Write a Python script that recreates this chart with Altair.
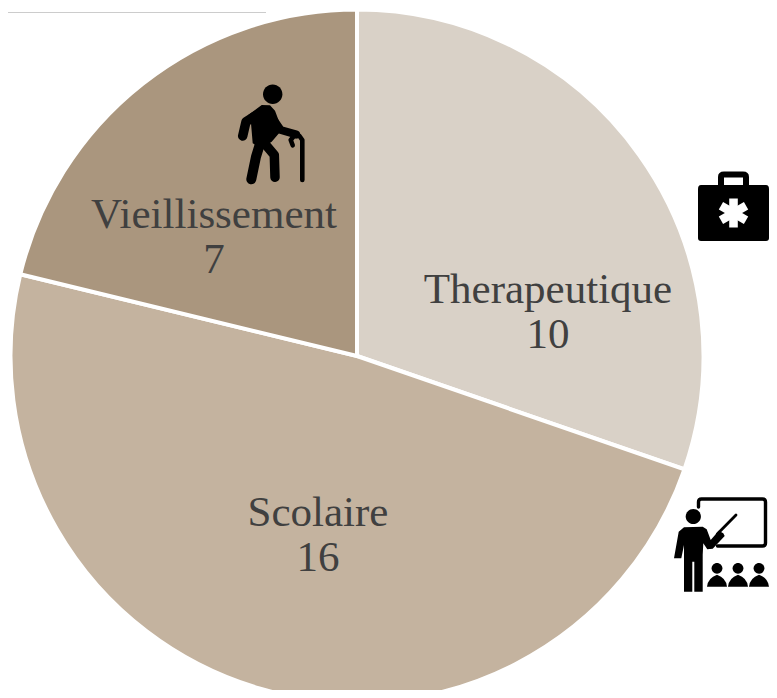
import math
import altair as alt

categories = ["Therapeutique", "Scolaire", "Vieillissement"]
values = [10, 16, 7]
colors = ["#D9D1C7", "#C4B39F", "#AA967E"]

table = [{"cat": c, "value": v, "idx": i, "label": f"{c}\n{v}"}
         for i, (c, v) in enumerate(zip(categories, values))]

OFF = 8  # page margin
CX, CY, R = 357 - OFF, 356 - OFF, 346.5
LABEL_POS = {"Therapeutique": (548, 290), "Scolaire": (318, 513), "Vieillissement": (214, 215)}

pie = alt.Chart(alt.Data(values=table)).mark_arc(
    outerRadius=R, stroke="white", strokeWidth=4
).encode(
    theta=alt.Theta("value:Q", stack=True),
    order=alt.Order("idx:Q"),
    color=alt.Color("cat:N", scale=alt.Scale(domain=categories, range=colors), legend=None),
    x=alt.value(CX), y=alt.value(CY),
)

layers = [pie]

layers.append(
    alt.Chart(alt.Data(values=[{"r": 1}])).mark_rule(color="#cccccc", strokeWidth=1).encode(
        x=alt.value(0), x2=alt.value(266 - OFF), y=alt.value(12.5 - OFF)
    )
)

for row in table:
    px, py = LABEL_POS[row["cat"]]
    layers.append(
        alt.Chart(alt.Data(values=[row])).mark_text(
            font="Liberation Serif", fontSize=43, color="#404040",
            lineBreak="\n", lineHeight=45, align="center", baseline="middle",
        ).encode(text="label:N", x=alt.value(px - OFF), y=alt.value(py - OFF))
    )


def icon(path, fill=None, stroke=None, sw=0):
    kw = dict(shape=path, size=4, opacity=1)
    if fill:
        kw.update(filled=True, fill=fill, strokeWidth=0)
    else:
        kw.update(filled=False, fill="transparent", stroke=stroke, strokeWidth=sw,
                  strokeCap="round", strokeJoin="round")
    return alt.Chart(alt.Data(values=[{"i": 1}])).mark_point(**kw).encode(
        x=alt.value(-OFF), y=alt.value(-OFF)
    )


def circle(cx, cy, r):
    return f"M{cx-r},{cy}A{r},{r} 0 1 1 {cx+r},{cy}A{r},{r} 0 1 1 {cx-r},{cy}Z"


def zoomed(pts, ox, oy):
    """Polygon from a 3x reference crop to page pixels."""
    return "M" + "L".join(f"{ox+x/3:.1f},{oy+y/3:.1f}" for x, y in pts) + "Z"


def polyline(pts, ox, oy):
    return "M" + "L".join(f"{ox+x/3:.1f},{oy+y/3:.1f}" for x, y in pts)


# Briefcase (narrowed so it stays whole inside the drawable width)
layers.append(icon("M701,185H766Q769,185 769,189V238Q769,241 766,241H701Q698,241 698,238V189Q698,185 701,185Z", fill="black"))
layers.append(icon("M721,186V177Q721,174.500 724,174.500H743Q746,174.500 746,177V186", stroke="black", sw=6))
for a in (0, 60, 120):
    c, s = math.cos(math.radians(a)), math.sin(math.radians(a))
    corners = [(-4.3, -14.5), (4.3, -14.5), (4.3, 14.5), (-4.3, 14.5)]
    pts = [(733.5 + x * c - y * s, 213 + x * s + y * c) for x, y in corners]
    layers.append(icon("M" + "L".join(f"{x:.1f},{y:.1f}" for x, y in pts) + "Z", fill="white"))

# Teacher
tx, ty = 660, 490
layers.append(icon("M698.500,507V502Q698.500,499 701.500,499H762.500Q765.500,499 765.500,502V543Q765.500,546 762.500,546H717.500", stroke="black", sw=3.4))
layers.append(icon(polyline([(172, 132), (228, 75)], tx, ty), stroke="black", sw=2.8))
layers.append(icon(circle(693.3, 516.5, 7.6), fill="black"))
layers.append(icon(zoomed([
    (72, 112), (128, 110), (140, 118), (152, 150), (176, 122), (190, 130), (194, 138), (158, 176),
    (142, 178), (130, 160), (128, 195), (128, 305), (103, 305), (103, 215), (97, 215), (97, 305),
    (72, 305), (72, 165), (64, 205), (42, 205), (56, 125)], tx, ty), fill="black"))
for hx in (717, 738, 759):
    layers.append(icon(circle(hx, ty + 235 / 3, 5.4), fill="black"))
    x0, x1, xm, y0, y1 = hx - 10, hx + 10, hx, ty + 290 / 3, ty + 254 / 3
    layers.append(icon(f"M{x0:.1f},{y0:.1f}Q{x0+1:.1f},{y1+3:.1f} {xm:.1f},{y1:.1f}Q{x1-1:.1f},{y1+3:.1f} {x1:.1f},{y0:.1f}Z", fill="black"))

# Elder
ex, ey = 220, 80
layers.append(icon(circle(272.7, 94.3, 9.7), fill="black"))
layers.append(icon(zoomed([
    (125, 75), (150, 76), (165, 92), (180, 132), (190, 145), (155, 185), (125, 205), (98, 190), (93, 130), (85, 105)
], ex, ey), fill="black"))
layers.append(icon(polyline([(105, 108), (78, 125), (68, 168)], ex, ey), stroke="black", sw=9.5))
layers.append(icon(polyline([(165, 125), (182, 150), (228, 163)], ex, ey), stroke="black", sw=8))
layers.append(icon(polyline([(247, 300), (247, 180), (238, 167), (222, 168), (212, 180), (218, 196)], ex, ey), stroke="black", sw=4.6))
layers.append(icon(polyline([(125, 175), (108, 230), (94, 298)], ex, ey), stroke="black", sw=10))
layers.append(icon(polyline([(125, 180), (163, 225), (165, 292)], ex, ey), stroke="black", sw=9.5))

chart = alt.layer(*layers).properties(
    width=761, height=682, padding=0, autosize=alt.AutoSizeParams(type="none"),
    background="white",
).configure_view(stroke=None)

chart.save("out.html", embed_options={"renderer": "svg", "actions": False})
